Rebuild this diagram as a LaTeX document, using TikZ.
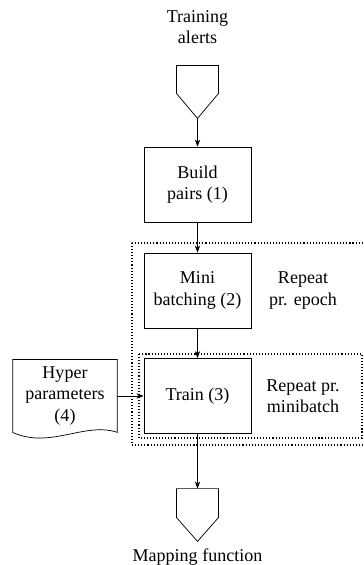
\documentclass[tikz,border=0pt]{standalone}
\usepackage{fontspec}
\setmainfont{Liberation Serif}
\usetikzlibrary{arrows.meta, calc}

\begin{document}
\begin{tikzpicture}[x=0.555pt, y=-0.555pt, >={Stealth[length=4pt,width=3pt]},
  process/.style={draw, minimum width=59.4pt, minimum height=41.6pt, align=center},
  funnel/.style={minimum width=22.8pt, minimum height=28.9pt, inner sep=0pt},
  loopbox/.style={line width=0.6pt, dash pattern=on 0.6pt off 1.1pt},
  lbl/.style={align=center}]
\useasboundingbox (0,0) rectangle (364,565);

% input alerts, funnel on top
\node[lbl] (alerts) at (197.5,27) {Training\\alerts};
\node[funnel] (src) at (197.5,92) {};
\draw (src.north west) -- (src.north east) -- ($(src.north east)+(0,28)$) -- (src.south) -- ($(src.north west)+(0,28)$) -- cycle;

% main chain of steps
\node[process] (pairs) at (197.5,184.5) {Build\\pairs (1)};
\node[process] (batch) at (197.5,290.5) {Mini\\batching (2)};
\node[process] (train) at (197.5,396) {Train (3)};

% output funnel and its text
\node[funnel] (sink) at (197.5,515) {};
\draw (sink.north west) -- (sink.north east) -- ($(sink.north east)+(0,29)$) -- (sink.south) -- ($(sink.north west)+(0,29)$) -- cycle;
\node[lbl] (mapping) at (197.5,557) {Mapping function};

% hyper parameters, document with a wavy bottom
\node[lbl, minimum width=57.7pt, minimum height=40pt] (hyper) at (65,396) {Hyper\\parameters\\(4)};
\draw (hyper.north west) -- (hyper.north east) -- (hyper.south east) .. controls +(-32,-11) and +(37,17) .. (hyper.south west) -- cycle;

% repeat loops (outer one runs past the right edge)
\draw[loopbox] (132,243) rectangle (367,445);
\draw[loopbox] (139,354) rectangle (362,438);
\node[lbl] (epochlbl) at (303,290.5) {Repeat\\pr. epoch};
\node[lbl] (batchlbl) at (303,396) {Repeat pr.\\minibatch};

\draw[->] (src.south) -- (pairs);
\draw[->] (pairs) -- (batch);
\draw[->] (batch) -- (train);
\draw[->] (train) -- (sink.north);
\draw[->] (hyper) -- (train);

\end{tikzpicture}
\end{document}
